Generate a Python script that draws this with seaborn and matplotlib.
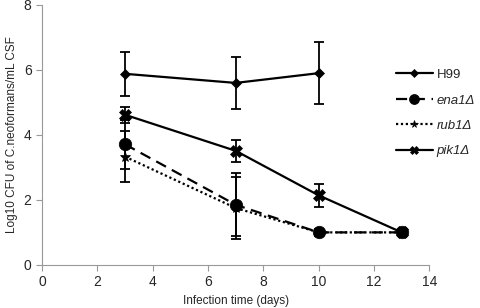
import matplotlib
matplotlib.use("Agg")
import matplotlib.pyplot as plt
from matplotlib.lines import Line2D
import numpy as np
import pandas as pd
import seaborn as sns

days = [3, 7, 10, 13]
h99_days = [3, 7, 10]
h99 = [5.88, 5.60, 5.90]
h99_err = [0.67, 0.81, 0.95]
ena1 = [3.71, 1.85, 1.00, 1.00]
ena1_err = [0.76, 0.97, 0.10, 0.05]
rub1 = [3.33, 1.75, 1.00, 1.00]
rub1_err = [0.79, 0.95, 0.08, 0.05]
pik1 = [4.62, 3.51, 2.14, 1.00]
pik1_err = [0.25, 0.33, 0.35, 0.05]

labels = ["H99", "ena1Δ", "rub1Δ", "pik1Δ"]

sns.set_theme(style="white")
plt.rcParams["font.family"] = ["Liberation Sans", "DejaVu Sans"]

fig = plt.figure(figsize=(4.8, 3.08), dpi=100)
ax = fig.add_axes([0.0875, 0.14, 0.807, 0.844])

series = [
    ("H99", h99_days, h99, h99_err, "-", "D", 5.5),
    ("ena1Δ", days, ena1, ena1_err, (0, (5, 3)), "o", 9),
    ("rub1Δ", days, rub1, rub1_err, (0, (1, 1.2)), "*", 7),
    ("pik1Δ", days, pik1, pik1_err, "-", "X", 8),
]

for name, x, y, err, ls, mk, ms in series:
    df = pd.DataFrame({"day": x, "cfu": y})
    sns.lineplot(data=df, x="day", y="cfu", ax=ax, color="black", linestyle=ls,
                 linewidth=1.6, marker=mk, markersize=ms, markeredgecolor="black",
                 markeredgewidth=0.5, legend=False)
    ax.errorbar(x, y, yerr=err, fmt="none", ecolor="black", elinewidth=1.3,
                capsize=3.5, capthick=1.3)

handles = [Line2D([0], [0], color="black", linestyle=s[4], linewidth=1.6,
                  marker=s[5], markersize=s[6] * 0.8, markeredgewidth=0.5)
           for s in series]
leg = fig.legend(handles, labels, loc="upper left", bbox_to_anchor=(0.80, 0.815),
                 frameon=False, fontsize=9.5, handlelength=2.8, labelspacing=1.0,
                 handletextpad=0.3)
for t in leg.get_texts()[1:]:
    t.set_style("italic")

ax.set_xlim(0, 14)
ax.set_ylim(0, 8)
ax.set_xticks(np.arange(0, 15, 2))
ax.set_yticks(np.arange(0, 9, 2))
ax.set_xlabel("Infection time (days)", fontsize=8.5)
ax.set_ylabel("Log10 CFU of C.neoformans/mL CSF", fontsize=8.5)
ax.tick_params(axis="both", labelsize=10, length=4, width=0.8, color="#999999",
               direction="out", bottom=True, left=True)
for side in ["top", "right"]:
    ax.spines[side].set_visible(False)
for side in ["left", "bottom"]:
    ax.spines[side].set_color("#999999")
    ax.spines[side].set_linewidth(0.8)

fig.savefig("out.png", dpi=100)
